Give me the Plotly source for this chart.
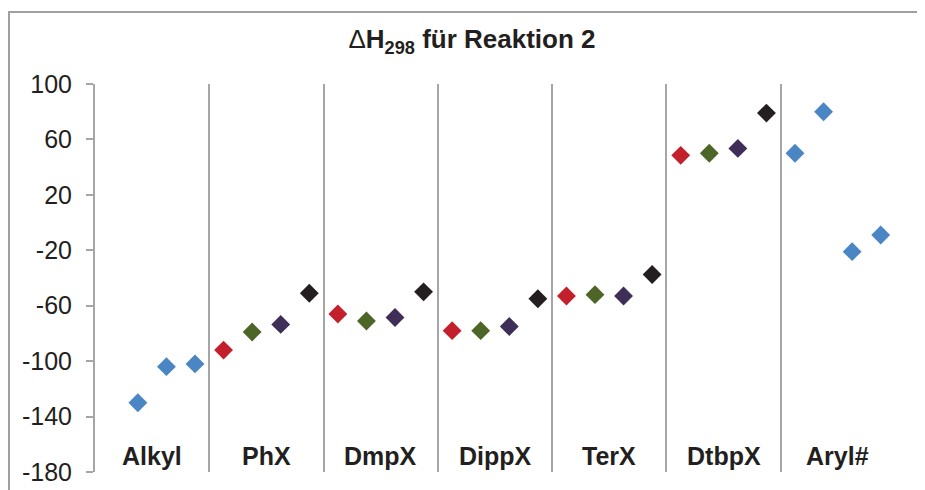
import plotly.graph_objects as go

categories = ["Alkyl", "PhX", "DmpX", "DippX", "TerX", "DtbpX", "Aryl#"]

# values for the four positions inside each category group
pos1 = [None, -92, -66, -78, -53, 48.5, 50]
pos2 = [-130, -79, -71, -78, -52, 50, 80]
pos3 = [-104, -73.5, -68.5, -75, -53, 53.5, -21]
pos4 = [-102, -51, -50, -55, -37.5, 79, -9]
series = [pos1, pos2, pos3, pos4]

y_ticks = [-180, -140, -100, -60, -20, 20, 60, 100]

blue = "#4A85C4"
slot_colors = ["#C3202B", "#4E6528", "#3E2E58", "#231F20"]
blue_cats = {"Alkyl", "Aryl#"}

FONT = "Liberation Sans, Arial, sans-serif"
# page has an 8px body margin, so the figure is drawn 8px in from the corner
W, H = 917, 482
L, R, T, B = 87, 30, 76, 18

fig = go.Figure()
n = len(categories)
for s, vals in enumerate(series):
    xs = [4 * k + s for k in range(n)]
    cols = [blue if c in blue_cats else slot_colors[s] for c in categories]
    fig.add_trace(go.Scatter(
        x=xs, y=vals, mode="markers",
        marker=dict(symbol="diamond", size=14.5, color=cols, line=dict(width=0)),
        showlegend=False, hoverinfo="y"))

for k, c in enumerate(categories):
    fig.add_annotation(x=4 * k + 1.5, xref="x", y=0.041, yref="paper",
                       text="<b>%s</b>" % c, showarrow=False,
                       font=dict(family=FONT, size=25, color="#231F20"),
                       xanchor="center", yanchor="middle")

pw = W - L - R
ph = H - T - B
# outer chart border (top and left visible)
fig.add_shape(type="line", xref="paper", yref="paper",
              x0=(0 - L) / pw, x1=(W + 5 - L) / pw,
              y0=(H - B - 4) / ph, y1=(H - B - 4) / ph,
              line=dict(color="#A0A0A0", width=2))
fig.add_shape(type="line", xref="paper", yref="paper",
              x0=(1 - L) / pw, x1=(1 - L) / pw,
              y0=(H - B - 4) / ph, y1=(-B - 5) / ph,
              line=dict(color="#A0A0A0", width=2))

fig.update_layout(
    template="none",
    width=W, height=H, autosize=False,
    margin=dict(l=L, r=R, t=T, b=B, autoexpand=False),
    paper_bgcolor="white", plot_bgcolor="white",
    title=dict(text="Δ<b>H<sub>298</sub> für Reaktion 2</b>",
               x=464 / W, xref="container", xanchor="center",
               y=1 - 31 / H, yref="container", yanchor="middle",
               font=dict(family=FONT, size=26, color="#231F20")),
    font=dict(family=FONT, color="#231F20"),
)
fig.update_xaxes(range=[-0.5, 27.5], tickmode="array",
                 tickvals=[4 * k + 3.5 for k in range(n)],
                 showticklabels=False, ticks="", automargin=False,
                 showgrid=True, gridcolor="#A6A6A6", gridwidth=2,
                 zeroline=False, showline=False)
fig.update_yaxes(range=[-180, 100], tickmode="array", tickvals=y_ticks,
                 ticktext=[str(v) for v in y_ticks], automargin=False,
                 showgrid=False, zeroline=False,
                 showline=True, linecolor="#A6A6A6", linewidth=2,
                 ticks="outside", ticklen=7, tickcolor="#A6A6A6", tickwidth=2,
                 ticklabelstandoff=9,
                 tickfont=dict(family=FONT, size=25, color="#231F20"))

fig.write_html("out.html")
